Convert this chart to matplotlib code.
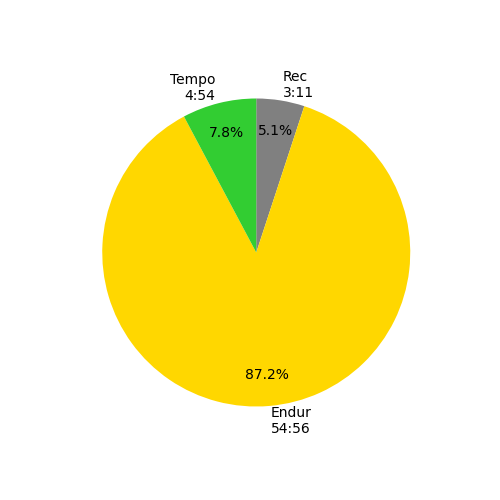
import matplotlib
matplotlib.use('Agg')
import matplotlib.pyplot as plt

# zone data (seconds)
zones = ['Rec', 'Endur', 'Tempo']
times = ['3:11', '54:56', '4:54']
seconds = [191, 3296, 294]
colors = ['gray', 'gold', 'limegreen']

labels = [f"{z}\n{t}" for z, t in zip(zones, times)]

fig, ax = plt.subplots(figsize=(5, 5), dpi=100)
ax.pie(seconds, labels=labels, colors=colors, autopct='%1.1f%%',
       startangle=90, counterclock=False, pctdistance=0.8)
fig.savefig('out.png')
